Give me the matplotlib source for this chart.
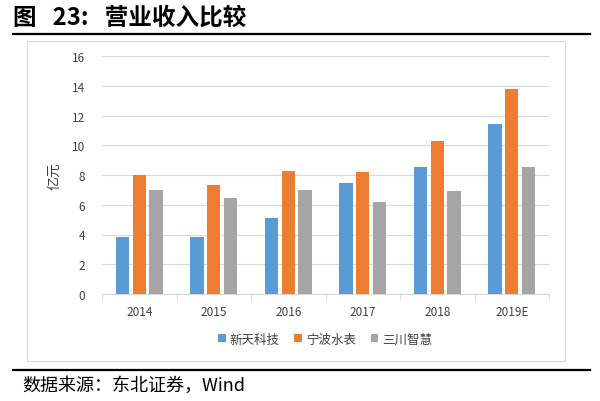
import matplotlib.pyplot as plt
import numpy as np
from matplotlib.patches import Rectangle
from matplotlib.lines import Line2D

plt.rcParams["font.family"] = ["Noto Sans CJK SC", "DejaVu Sans"]

years = ["2014", "2015", "2016", "2017", "2018", "2019E"]
xintian = [3.83, 3.83, 5.08, 7.44, 8.56, 11.43]
ningbo = [8.02, 7.35, 8.27, 8.18, 10.31, 13.78]
sanchuan = [7.01, 6.48, 6.97, 6.16, 6.9, 8.56]
names = ["新天科技", "宁波水表", "三川智慧"]
colors = ["#5B9BD5", "#ED7D31", "#A5A5A5"]

fig = plt.figure(figsize=(6, 4.02), dpi=100)

# title and rules
fig.text(13 / 600, 1 - 18 / 402, "图   23:   营业收入比较", fontsize=17, fontweight="bold",
         va="center", ha="left")
fig.add_artist(Line2D([13 / 600, 590 / 600], [1 - 35 / 402] * 2, color="black", lw=1.6))
fig.add_artist(Line2D([13 / 600, 590 / 600], [1 - 371 / 402] * 2, color="black", lw=1.6))
fig.text(22 / 600, 1 - 386 / 402, "数据来源：东北证券，Wind", fontsize=13, va="center", ha="left")

# chart frame
fig.add_artist(Rectangle((27 / 600, 1 - 362 / 402), 538 / 600, 320 / 402,
                         fill=False, edgecolor="#D9D9D9", lw=0.8))

ax = fig.add_axes([102 / 600, 1 - 295 / 402, 447 / 600, 238 / 402])
x = np.arange(len(years))
w = 0.18
step = 0.224
for i, (vals, name, c) in enumerate(zip([xintian, ningbo, sanchuan], names, colors)):
    ax.bar(x + (i - 1) * step, vals, width=w, color=c, label=name, zorder=3)

ax.set_xlim(-0.5, len(years) - 0.5)
ax.set_ylim(0, 16)
ax.set_yticks(range(0, 17, 2))
ax.set_xticks(x)
ax.set_xticklabels(years)
ax.set_xticks(np.arange(-0.5, len(years), 1), minor=True)
ax.tick_params(axis="x", which="major", length=0, labelsize=8.5, colors="#404040", pad=8)
ax.tick_params(axis="x", which="minor", length=4, color="#D9D9D9")
ax.tick_params(axis="y", length=0, labelsize=8.5, colors="#404040", pad=12)
ax.grid(axis="y", color="#D9D9D9", lw=0.8, zorder=0)
for s in ["top", "right", "left"]:
    ax.spines[s].set_visible(False)
ax.spines["bottom"].set_color("#D9D9D9")
ax.set_ylabel("亿元", fontsize=10, color="#404040", labelpad=8)

fig.legend(loc="center", bbox_to_anchor=(325 / 600, 1 - 340 / 402), ncol=3, frameon=False,
           fontsize=9, handlelength=0.6, handleheight=0.6, handletextpad=0.3,
           columnspacing=1.2, labelcolor="#404040")

fig.savefig("out.png", dpi=100, facecolor="white")
